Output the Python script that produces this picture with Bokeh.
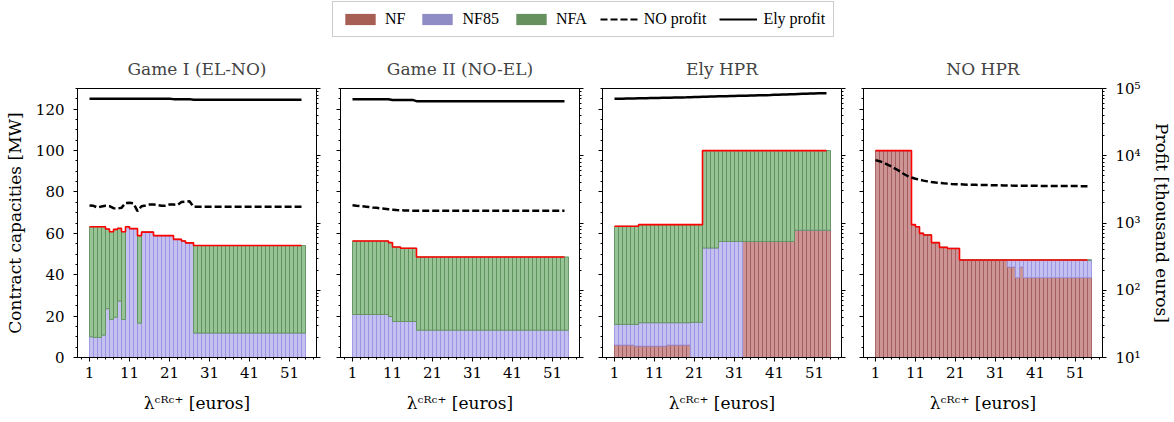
import numpy as np
from bokeh.plotting import figure
from bokeh.models import (Range1d, LogAxis, LogScale, FixedTicker, ColumnDataSource,
                          Legend, LegendItem)
from bokeh.layouts import row, column
from bokeh.embed import file_html
from bokeh.resources import INLINE

# ---------------- data ----------------
x = list(range(1, 55))
x_ticks = [1, 11, 21, 31, 41, 51]
y_ticks = [0, 20, 40, 60, 80, 100, 120]
p_ticks = [10, 100, 1000, 10000, 100000]
p_tick_labels = ["10\u00b9", "10\u00b2", "10\u00b3", "10\u2074", "10\u2075"]
titles = ["Game I (EL-NO)", "Game II (NO-EL)", "Ely HPR", "NO HPR"]
series_names = ["NF", "NF85", "NFA", "NO profit", "Ely profit"]
x_label = "\u03bb\u1d9c\u1d3f\u1d9c\u207a [euros]"

# Game I (EL-NO)
g1_nf = [0.0] * 54
g1_nf85 = ([10.0, 9.7, 9.7, 10.8, 23.6, 18.4, 19.5, 27.3, 18.4, 63.2, 62.3, 62.3, 16.6]
           + [60.6] * 3 + [58.9] * 5 + [57.1] * 2 + [56.3] + [55.4] * 2 + [11.8] * 28)
g1_nfa = ([53.2, 53.5, 53.5, 52.4, 38.5, 42.4, 42.4, 35.1, 42.4, 0.0, 0.0, 0.0, 42.3]
          + [0.0] * 13 + [42.3] * 28)
g1_no = ([1820, 1800, 1700, 1760, 1800, 1780, 1660, 1640, 1680, 1990, 2000, 1960, 1500,
          1780, 1820, 1880, 1880, 1850, 1800, 1800, 1880, 1880, 1860, 2050, 2080, 2100]
         + [1740] * 28)
g1_ely = [70500] * 21 + [69500] * 5 + [68000] * 28

# Game II (NO-EL)
g2_nf = [0.0] * 54
g2_nf85 = [20.8] * 9 + [19.8] + [17.4] * 6 + [13.2] * 38
g2_nfa = [35.5] * 9 + [35.7] + [36.0] * 2 + [35.4] * 42
g2_no = ([1840, 1810, 1790, 1760, 1730, 1700, 1680, 1650, 1630, 1600, 1580, 1560, 1550,
          1540, 1530, 1525] + [1520] * 38)
g2_ely = [69300] * 10 + [67700] * 6 + [64800] * 38

# Ely HPR
g3_nf = [6.0] * 5 + [5.5] * 8 + [6.0] * 6 + [0.0] * 13 + [56.1] * 13 + [61.5] * 9
g3_nf85 = ([10.0] * 5 + [10.5] + [11.3] * 7 + [10.8] * 6 + [17.0] * 3 + [52.9] * 4
           + [56.1] * 6 + [0.0] * 22)
g3_nfa = [47.4] * 19 + [47.2] * 3 + [47.1] * 4 + [43.9] * 19 + [38.5] * 9
g3_no = None
g3_ely = [70300, 70500, 70700, 70900, 71100, 71300, 71500, 71700, 71900, 72100,
          72300, 72500, 72700, 72900, 73100, 73300, 73500, 73700, 73900, 74200,
          74500, 74800, 75200, 75500, 75800, 76100, 76400, 76700, 77000, 77300,
          77500, 77700, 77900, 78200, 78500, 78800, 79100, 79400, 79700, 80000,
          80400, 80800, 81200, 81600, 82000, 82400, 82800, 83200, 83600, 84000,
          84400, 84800, 85100, 85300]

# NO HPR
g4_nf = ([100.0] * 9 + [64.2, 63.2, 60.0, 59.2, 59.2, 55.5, 55.5, 53.2, 53.2, 52.7, 52.7, 52.7]
         + [47.1] * 12 + [43.7, 43.7, 38.6, 43.7] + [38.6] * 17)
g4_nf85 = [0.0] * 33 + [3.4, 3.4, 8.5, 3.4] + [8.5] * 17
g4_nfa = [0.0] * 54
g4_no = [8600, 8300, 7900, 7400, 6900, 6400, 5900, 5400, 5000, 4750,
         4550, 4400, 4270, 4160, 4070, 4000, 3940, 3890, 3850, 3810,
         3780, 3760, 3740, 3720, 3700, 3690, 3680, 3670, 3660, 3650,
         3640, 3630, 3620, 3610, 3600, 3595, 3590, 3585, 3580, 3575,
         3570, 3565, 3560, 3556, 3552, 3548, 3545, 3542, 3540, 3538,
         3536, 3534, 3532, 3530]
g4_ely = None

panels = [
    (g1_nf, g1_nf85, g1_nfa, g1_no, g1_ely),
    (g2_nf, g2_nf85, g2_nfa, g2_no, g2_ely),
    (g3_nf, g3_nf85, g3_nfa, g3_no, g3_ely),
    (g4_nf, g4_nf85, g4_nfa, g4_no, g4_ely),
]

# ---------------- style ----------------
FONT = "DejaVu Serif"
FILLS = ["#cc9494", "#c4c0ef", "#98c396"]
EDGES = ["#a35a5a", "#9a92e2", "#5c915a"]
LEG_COLORS = ["#a65e55", "#8f8bc5", "#67905f"]
lefts = [77, 12, 12, 11]
rights = [12, 11, 11, 68]

x_minor = list(range(-1, 58, 2))
y_minor = list(range(0, 131, 5))
p_minor = [m * d for d in (10, 100, 1000, 10000) for m in range(2, 10)]


def style_axis(ax, ticks, show_labels):
    ax.axis_line_color = "black"
    ax.major_tick_line_color = "black"
    ax.minor_tick_line_color = "black"
    ax.major_tick_in = 0
    ax.major_tick_out = 4
    ax.minor_tick_in = 0
    ax.minor_tick_out = 2
    ax.major_label_text_font = FONT
    ax.major_label_text_font_size = "15px"
    ax.major_label_text_color = "black"
    ax.axis_label_text_font = FONT
    ax.axis_label_text_font_style = "normal"
    ax.axis_label_text_font_size = "17px"
    ax.axis_label_text_color = "black"
    if not show_labels:
        ax.major_label_overrides = {t: "" for t in ticks}
        ax.major_label_standoff = 0


figs = []
for i, (nf, nf85, nfa, no_p, ely_p) in enumerate(panels):
    first, last = i == 0, i == 3
    p = figure(frame_width=239, frame_height=269,
               x_range=Range1d(-2, 57.75), y_range=Range1d(0, 130),
               output_backend="svg", toolbar_location=None,
               min_border_left=lefts[i], min_border_right=rights[i],
               min_border_top=48, min_border_bottom=62)
    p.extra_y_ranges = {"profit": Range1d(10, 100000)}
    p.extra_y_scales = {"profit": LogScale()}
    p.xgrid.grid_line_color = None
    p.ygrid.grid_line_color = None
    p.outline_line_color = "black"
    p.outline_line_alpha = 1.0
    p.background_fill_color = "white"

    p.title.text = titles[i]
    p.title.align = "center"
    p.title.text_font = FONT
    p.title.text_font_size = "17px"
    p.title.text_font_style = "normal"
    p.title.standoff = 19

    xa = p.xaxis[0]
    xa.ticker = FixedTicker(ticks=x_ticks, minor_ticks=x_minor)
    style_axis(xa, x_ticks, True)
    xa.major_label_standoff = 5
    xa.axis_label = x_label
    xa.axis_label_standoff = 12

    ya = p.yaxis[0]
    ya.ticker = FixedTicker(ticks=y_ticks, minor_ticks=y_minor)
    style_axis(ya, y_ticks, first)
    if first:
        ya.axis_label = "Contract capacities [MW]"
        ya.major_label_standoff = 9
        ya.axis_label_standoff = 8

    ra = LogAxis(y_range_name="profit",
                 ticker=FixedTicker(ticks=p_ticks, minor_ticks=p_minor))
    style_axis(ra, p_ticks, last)
    if last:
        ra.major_label_overrides = dict(zip(p_ticks, p_tick_labels))
        ra.axis_label = "Profit [thousand euros]"
        ra.major_label_standoff = 9
        ra.axis_label_standoff = 8
    p.add_layout(ra, "right")

    src = ColumnDataSource(dict(xc=[v + 0.5 for v in x], nf=nf, nf85=nf85, nfa=nfa))
    p.vbar_stack(["nf", "nf85", "nfa"], x="xc", width=1, source=src,
                 fill_color=FILLS, line_color=EDGES, line_width=1, line_alpha=0.9)
    total = (np.array(nf) + np.array(nf85) + np.array(nfa)).tolist()
    p.step(x=x, y=total, mode="after", line_color="red", line_width=1.6)

    if no_p is not None:
        p.line(x=x, y=no_p, y_range_name="profit", line_color="black",
               line_width=2.5, line_dash="7 3")
    if ely_p is not None:
        p.line(x=x, y=ely_p, y_range_name="profit", line_color="black", line_width=2.5)
    figs.append(p)

# ---------------- legend strip ----------------
lf = figure(width=1170, height=40, x_range=Range1d(0, 1), y_range=Range1d(0, 1),
            output_backend="svg", toolbar_location=None, min_border=0,
            x_axis_location=None, y_axis_location=None)
lf.outline_line_color = None
lf.xgrid.grid_line_color = None
lf.ygrid.grid_line_color = None
nan = float("nan")
items = []
for name, col in zip(series_names[:3], LEG_COLORS):
    r = lf.vbar(x=[nan], top=[nan], width=1, fill_color=col, line_color=None)
    items.append(LegendItem(label=name, renderers=[r]))
r_no = lf.line(x=[nan], y=[nan], line_color="black", line_width=2, line_dash="7 3")
items.append(LegendItem(label=series_names[3], renderers=[r_no]))
r_ely = lf.line(x=[nan], y=[nan], line_color="black", line_width=2)
items.append(LegendItem(label=series_names[4], renderers=[r_ely]))
leg = Legend(items=items, orientation="horizontal", location=(332, 3),
             glyph_width=38, glyph_height=14, label_standoff=6, spacing=13,
             padding=8, margin=0, border_line_color="#999999", border_line_width=1,
             background_fill_color="white", background_fill_alpha=1.0,
             label_text_font="Liberation Serif", label_text_font_size="16px",
             label_text_color="black")
lf.add_layout(leg, "center")

layout = column(lf, row(*figs))
open("out.html", "w").write(file_html(layout, INLINE))
